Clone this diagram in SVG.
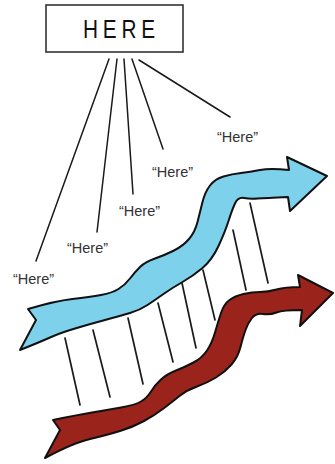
<svg xmlns="http://www.w3.org/2000/svg" width="335" height="464" viewBox="0 0 335 464">
<style>
.box{fill:#fff;stroke:#333;stroke-width:1.6}
.title{font-family:"Liberation Sans",Arial,sans-serif;font-size:26px;fill:#111;letter-spacing:6px}
.lbl{font-family:"Liberation Sans",Arial,sans-serif;font-size:14.5px;fill:#333}
.con{stroke:#1a1a1a;stroke-width:1.5;fill:none;stroke-linecap:round}
.hatch{stroke:#1a1a1a;stroke-width:1.7;fill:none;stroke-linecap:round}
.arrow{stroke:#111;stroke-width:2;stroke-linejoin:round}
</style>
<rect width="335" height="464" fill="#fff"/>
<g id="here-box">
<rect class="box" x="46" y="5" width="137" height="47"/>
<text class="title" transform="translate(83,38) scale(0.8,1)" x="0" y="0">HERE</text>
</g>
<g id="connectors">
<line class="con" x1="109" y1="59" x2="36" y2="261"/>
<line class="con" x1="117" y1="59" x2="97" y2="232"/>
<line class="con" x1="124" y1="59" x2="133" y2="194"/>
<line class="con" x1="132" y1="59" x2="163" y2="149"/>
<line class="con" x1="139" y1="60" x2="230" y2="117"/>
</g>
<g id="label-1"><text class="lbl" x="13" y="284">“Here”</text></g>
<g id="label-2"><text class="lbl" x="67" y="253">“Here”</text></g>
<g id="label-3"><text class="lbl" x="119" y="216">“Here”</text></g>
<g id="label-4"><text class="lbl" x="152" y="177">“Here”</text></g>
<g id="label-5"><text class="lbl" x="217" y="142">“Here”</text></g>
<g id="hatches">
<line class="hatch" x1="65" y1="338" x2="80" y2="405"/>
<line class="hatch" x1="93" y1="330" x2="110" y2="397"/>
<line class="hatch" x1="128" y1="318" x2="143" y2="384"/>
<line class="hatch" x1="158" y1="303" x2="173" y2="362"/>
<line class="hatch" x1="182" y1="283" x2="196" y2="348"/>
<line class="hatch" x1="203" y1="270" x2="215" y2="320"/>
<line class="hatch" x1="233" y1="230" x2="246" y2="290"/>
<line class="hatch" x1="250" y1="203" x2="268" y2="283"/>
</g>
<g id="blue-arrow">
<path class="arrow" fill="#7dd1ea" d="M28,309 Q55,301 72.5,299 Q90,297 101,295 Q112,293 118.5,289 Q125,285 130,278.5 Q135,272 140,267 Q145,262 155,258.5 Q165,255 174,250.5 Q183,246 189,239 Q195,232 197.5,222 Q200,212 202.5,202 Q205,192 210,185.5 Q215,179 223.5,176.5 Q232,174 241,173 Q250,172 260,170 Q270,168 289,170 L287,157 L327,176 L290,211 L288,197 Q265,198 257.5,198.5 Q250,199 244,198 Q238,197 235,203.5 Q232,210 228.5,221 Q225,232 218.5,246 Q212,260 202.5,268 Q193,276 182.5,282 Q172,288 163.5,294 Q155,300 147.5,305 Q140,310 130,313 Q120,316 105,320 Q90,324 75,328.5 Q60,333 50,337.5 Q40,342 20,350 L36,320 Z"/>
</g>
<g id="red-arrow">
<path class="arrow" fill="#9a231c" d="M53,420 Q77,415 92,412.5 Q107,410 121,407.5 Q135,405 141,401.5 Q147,398 151,391.5 Q155,385 161,379.5 Q167,374 176,370.5 Q185,367 193.5,362.5 Q202,358 207,350.5 Q212,343 215,332.5 Q218,322 221,313 Q224,304 229.5,300 Q235,296 243.5,294 Q252,292 260,292 Q268,292 276.5,289.5 Q285,287 300,287 L298,275 L333,293 L300,326 L302,310 Q283,310 276.5,312.5 Q270,315 263,314 Q256,313 252,318 Q248,323 245.5,330 Q243,337 240.5,347 Q238,357 231.5,364.5 Q225,372 216,377.5 Q207,383 197,386.5 Q187,390 179.5,396 Q172,402 163.5,408.5 Q155,415 144,421 Q133,427 120,431 Q107,435 90,439 Q73,443 45,458 L60,430 Z"/>
</g>
</svg>
